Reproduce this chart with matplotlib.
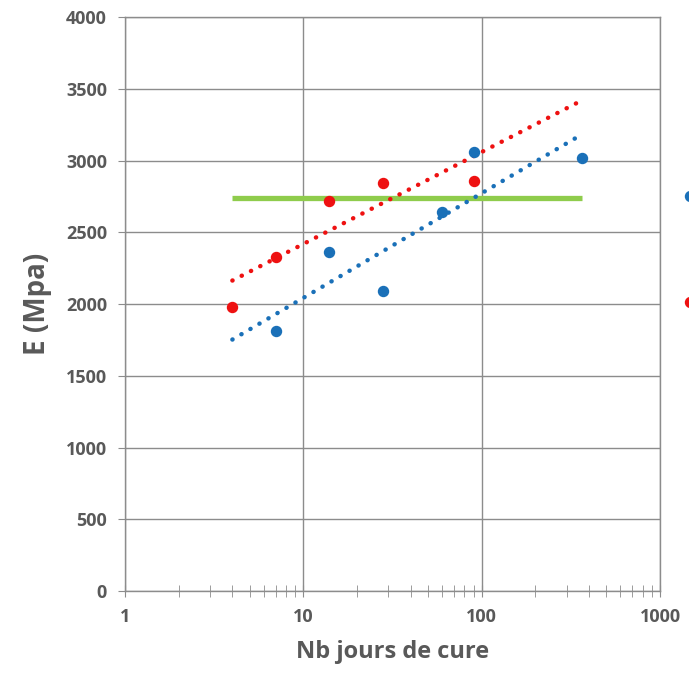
import numpy as np
import matplotlib
matplotlib.use("Agg")
import matplotlib.pyplot as plt
from matplotlib.lines import Line2D
from matplotlib.ticker import FixedLocator, NullFormatter, LogLocator

# Data
blue_days = [7, 14, 28, 60, 90, 365]
blue_E = [1810, 2360, 2090, 2640, 3060, 3020]
red_days = [4, 7, 14, 28, 90]
red_E = [1980, 2330, 2720, 2840, 2860]
green_days = [4, 365]
green_E = [2740, 2740]
trend_range = [4, 365]
y_ticks = [0, 500, 1000, 1500, 2000, 2500, 3000, 3500, 4000]
x_ticks = [1, 10, 100, 1000]

BLUE = "#1a70b8"
RED = "#ee1111"
GREEN = "#8fcc4c"
GRID = "#8c8c8c"
TXT = "#595959"

plt.rcParams['font.family'] = ['Open Sans', 'DejaVu Sans']

fig = plt.figure(figsize=(6.89, 6.73), dpi=100)
ax = fig.add_axes([0.1814, 0.1218, 0.958 - 0.1814, 0.9747 - 0.1218])

ax.set_xscale('log')
ax.set_xlim(1, 1000)
ax.set_ylim(0, 4000)

def log_fit(xs, ys):
    k, b = np.polyfit(np.log(xs), ys, 1)
    xx = np.geomspace(trend_range[0], trend_range[1], 200)
    return xx, k * np.log(xx) + b

# green reference line
ax.plot(green_days, green_E, color=GREEN, lw=3.8, solid_capstyle='butt', zorder=2)

# trend lines
for xs, ys, c in [(blue_days, blue_E, BLUE), (red_days, red_E, RED)]:
    xx, yy = log_fit(xs, ys)
    ax.plot(xx, yy, color=c, lw=3.2, linestyle=(0, (0.05, 2.3)),
            dash_capstyle='round', zorder=3)

ax.plot(blue_days, blue_E, 'o', color=BLUE, ms=7.2, zorder=4)
ax.plot(red_days, red_E, 'o', color=RED, ms=7.2, zorder=4)

# grid and axes
ax.yaxis.set_major_locator(FixedLocator(y_ticks))
ax.xaxis.set_major_locator(FixedLocator(x_ticks))
ax.xaxis.set_minor_locator(LogLocator(base=10, subs=np.arange(2, 10)))
ax.xaxis.set_minor_formatter(NullFormatter())
ax.set_xticklabels([str(t) for t in x_ticks])
ax.set_yticklabels([str(t) for t in y_ticks])
ax.grid(True, which='major', color=GRID, lw=1.0)
ax.set_axisbelow(True)
for s in ax.spines.values():
    s.set_color(GRID)
    s.set_linewidth(1.0)

ax.tick_params(axis='x', which='major', direction='inout', length=9, color=GRID,
               labelsize=13, labelcolor=TXT, pad=8)
ax.tick_params(axis='x', which='minor', direction='inout', length=8, color=GRID)
ax.tick_params(axis='y', which='major', direction='out', length=5, color=GRID,
               labelsize=13, labelcolor=TXT, pad=8)
for lab in ax.get_xticklabels() + ax.get_yticklabels():
    lab.set_fontweight('bold')

ax.set_xlabel('Nb jours de cure', fontsize=17, fontweight='bold', color=TXT, labelpad=10)
ax.set_ylabel('E (Mpa)', fontsize=20, fontweight='bold', color=TXT, labelpad=10)

# partially visible legend markers at the right edge
handles = [Line2D([], [], marker='o', color=BLUE, ls='', ms=7.2),
           Line2D([], [], marker='o', color=RED, ls='', ms=7.2)]
fig.legend(handles, [' ', ' '], loc='upper left', bbox_to_anchor=(0.9895, 0.7175),
           frameon=False, labelspacing=5.38, handletextpad=0.2, borderpad=0,
           borderaxespad=0, handlelength=1.0, fontsize=12)

fig.savefig('out.png', dpi=100)
